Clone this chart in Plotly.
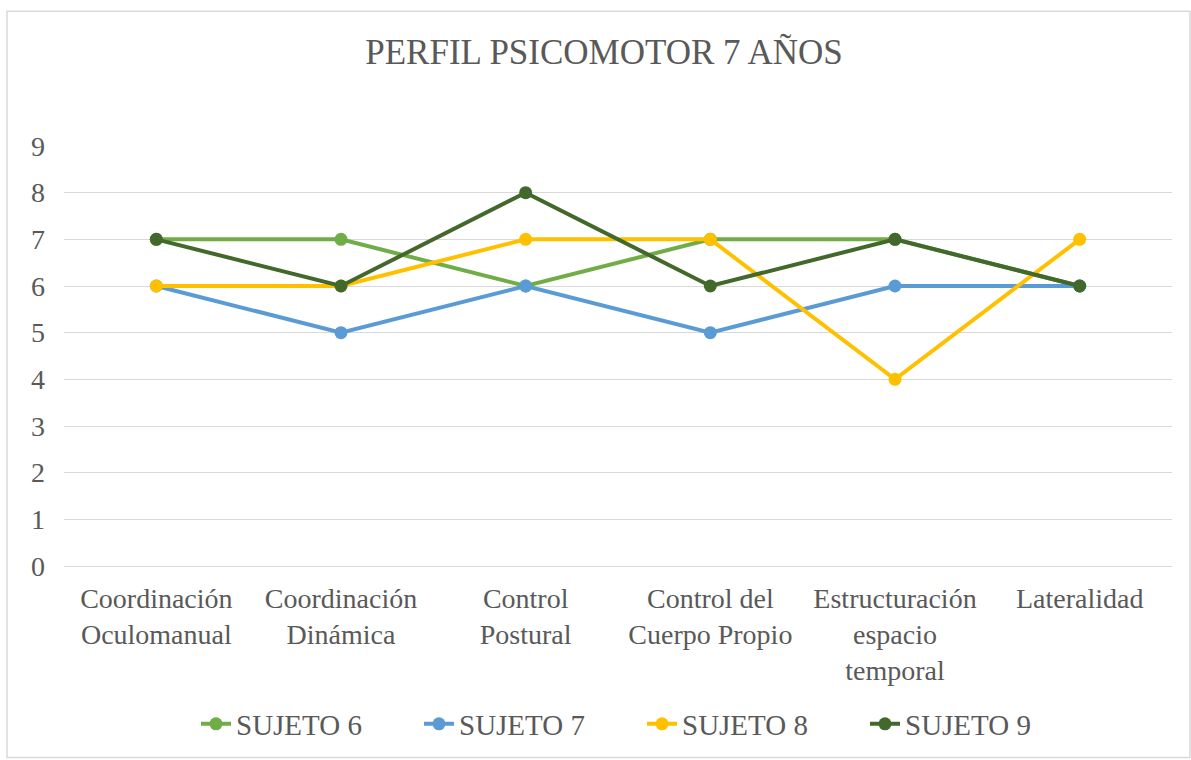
import plotly.graph_objects as go

categories = ["Coordinación<br>Oculomanual", "Coordinación<br>Dinámica", "Control<br>Postural",
              "Control del<br>Cuerpo Propio", "Estructuración<br>espacio<br>temporal", "Lateralidad"]
sujeto6 = [7, 7, 6, 7, 7, 6]
sujeto7 = [6, 5, 6, 5, 6, 6]
sujeto8 = [6, 6, 7, 7, 4, 7]
sujeto9 = [7, 6, 8, 6, 7, 6]
series_names = ["SUJETO 6", "SUJETO 7", "SUJETO 8", "SUJETO 9"]
colors = ["#70AD47", "#5B9BD5", "#FFC000", "#43682B"]
y_ticks = [0, 1, 2, 3, 4, 5, 6, 7, 8, 9]

W, H = 1191, 760
L, R, T, B = 64, 1172, 146, 567

fig = go.Figure()
for name, vals, c in zip(series_names, [sujeto6, sujeto7, sujeto8, sujeto9], colors):
    fig.add_trace(go.Scatter(x=list(range(len(categories))), y=vals, name=name, mode="lines+markers",
                             line=dict(color=c, width=4), marker=dict(color=c, size=13)))

def px_x(p):
    return (p - L) / (R - L)

def px_y(p):
    return (B - p) / (B - T)

fig.update_layout(
    width=W, height=H,
    margin=dict(l=L, r=W - R, t=T, b=H - B),
    plot_bgcolor="white", paper_bgcolor="white",
    font=dict(family="Liberation Serif", color="#595959", size=28),
    title=dict(text="PERFIL PSICOMOTOR 7 AÑOS", x=px_x(604), xref="paper", xanchor="center",
               y=1 - 52 / H, yanchor="middle",
               font=dict(size=35, color="#595959")),
    xaxis=dict(tickmode="array", tickvals=list(range(len(categories))), ticktext=categories,
               range=[-0.5, len(categories) - 0.5], showgrid=False, zeroline=False,
               showline=True, linecolor="#D9D9D9", linewidth=1, ticks="",
               tickfont=dict(size=28, color="#595959"), ticklabelstandoff=7),
    yaxis=dict(range=[0, 9], tickvals=y_ticks, showgrid=True, gridcolor="#D9D9D9", gridwidth=1,
               zeroline=False, showline=False, ticks="", tickfont=dict(size=28, color="#595959"),
               ticklabelstandoff=18),
    legend=dict(orientation="h", x=px_x(196), xanchor="left", xref="paper",
                y=px_y(724), yanchor="middle", yref="paper",
                font=dict(size=29, color="#595959"), entrywidth=178, entrywidthmode="pixels",
                tracegroupgap=0),
    showlegend=True,
    shapes=[dict(type="rect", xref="paper", yref="paper", x0=px_x(7), x1=px_x(1190), y0=px_y(11), y1=px_y(759),
                 line=dict(color="#D9D9D9", width=1.5), fillcolor="rgba(0,0,0,0)", layer="below")],
)
fig.write_html("out.html", config={"displayModeBar": False},
               post_script="document.body.style.margin='0';")
